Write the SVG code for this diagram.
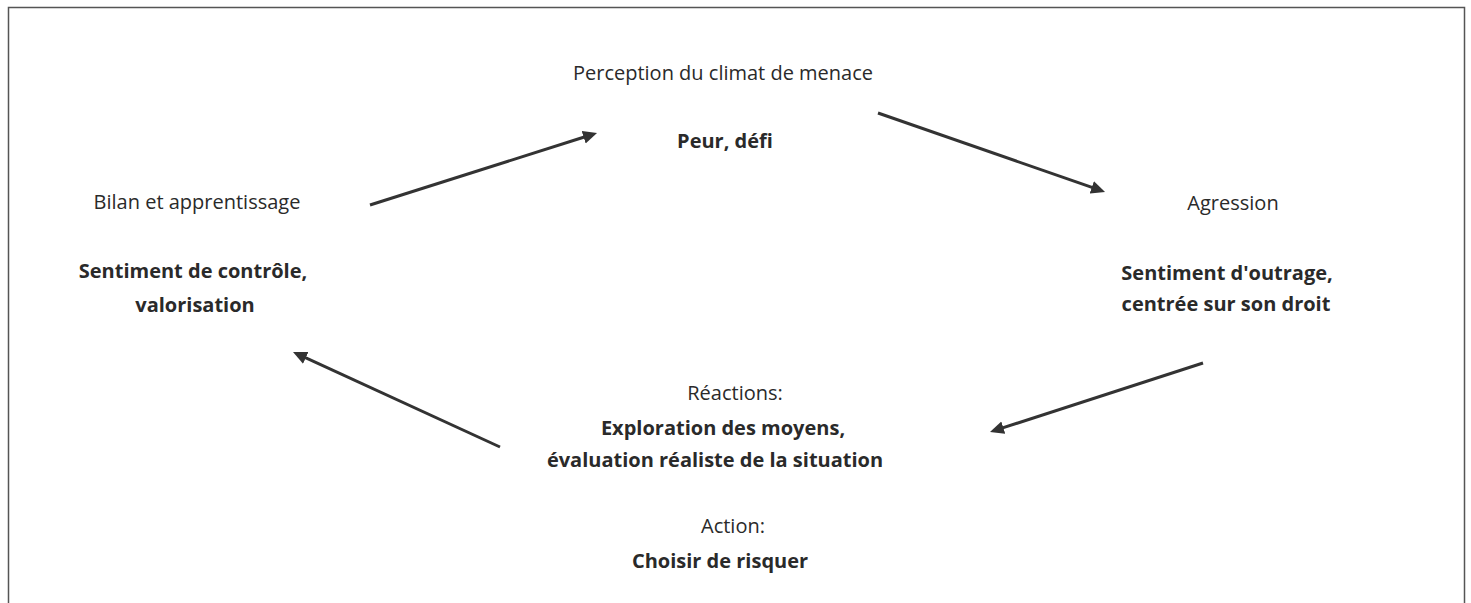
<svg xmlns="http://www.w3.org/2000/svg" width="1471" height="603" viewBox="0 0 1471 603">
<style>
text{font-family:"Open Sans","Liberation Sans",sans-serif;font-size:20px;fill:#2a2a2a;text-anchor:middle}
.b{font-weight:bold}
.c{stroke:#333;stroke-width:3;fill:none}
</style>
<defs>
<marker id="ah" markerUnits="userSpaceOnUse" markerWidth="15" markerHeight="14" refX="4" refY="7" orient="auto">
<path d="M0,0.5 L14,7 L0,13.5 z" fill="#333"/>
</marker>
</defs>
<rect x="0" y="0" width="1471" height="603" fill="#fff"/>
<rect x="8.5" y="7.5" width="1456" height="605" fill="none" stroke="#555" stroke-width="1.5"/>
<g id="n1">
<text x="723" y="80">Perception du climat de menace</text>
<text class="b" x="725" y="148">Peur, défi</text>
</g>
<g id="n2">
<text x="1233" y="210">Agression</text>
<text class="b" x="1227" y="280">Sentiment d'outrage,</text>
<text class="b" x="1226" y="311">centrée sur son droit</text>
</g>
<g id="n3">
<text x="735" y="400">Réactions:</text>
<text class="b" x="723" y="435">Exploration des moyens,</text>
<text class="b" x="715" y="467">évaluation réaliste de la situation</text>
<text x="733" y="533">Action:</text>
<text class="b" x="720" y="568">Choisir de risquer</text>
</g>
<g id="n4">
<text x="197" y="209">Bilan et apprentissage</text>
<text class="b" x="193" y="278">Sentiment de contrôle,</text>
<text class="b" x="195" y="312">valorisation</text>
</g>
<g id="connectors">
<line class="c" x1="370" y1="205" x2="587.5" y2="136" marker-end="url(#ah)"/>
<line class="c" x1="878" y1="113" x2="1095.6" y2="188.7" marker-end="url(#ah)"/>
<line class="c" x1="1203" y1="363" x2="999.5" y2="428.9" marker-end="url(#ah)"/>
<line class="c" x1="500" y1="447" x2="302.1" y2="356.2" marker-end="url(#ah)"/>
</g>
</svg>
